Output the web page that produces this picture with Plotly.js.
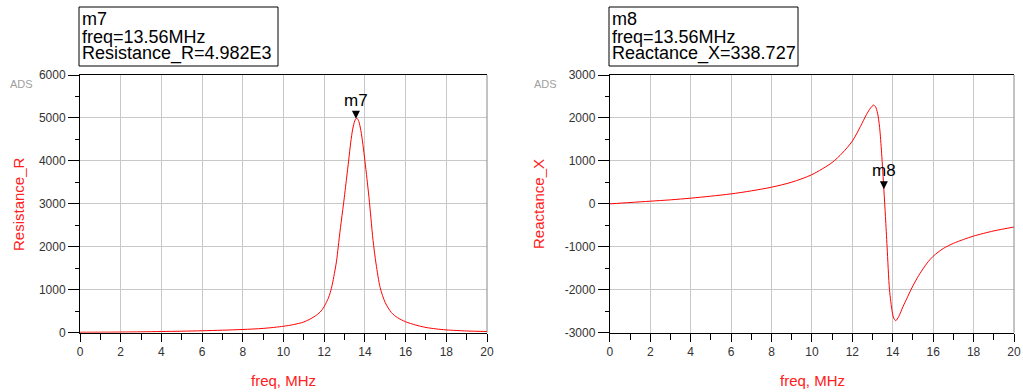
<!DOCTYPE html>
<html><head><meta charset="utf-8">
<script src="https://cdn.plot.ly/plotly-3.0.1.min.js"></script>
<style>html,body{margin:0;padding:0;background:#fff}#chart{width:1023px;height:392px}</style>
</head><body><div id="chart"></div>
<script>
// ---- data ----
const freqR = [0,1,2,3,4,5,6,7,8,9,10,10.5,11,11.5,11.8,12,12.2,12.3,12.4,12.6,12.69,12.8,12.95,13.1,13.2,13.3,13.4,13.5,13.56,13.62,13.7,13.8,13.9,14,14.1,14.2,14.3,14.4,14.55,14.75,15,15.3,15.6,16,16.5,17,17.5,18,19,20];
const resistanceR = [10,12,15,20,28,35,45,58,75,100,150,190,250,370,480,610,800,940,1130,1650,2000,2450,3000,3600,4000,4420,4740,4930,4982,4990,4920,4710,4390,4000,3590,3150,2650,2150,1600,1050,700,470,350,255,178,122,88,65,40,28];

const freqX = [0,1,2,3,4,5,6,7,8,9,10,11,11.5,12,12.4,12.7,12.9,13.05,13.15,13.25,13.35,13.45,13.56,13.64,13.72,13.84,13.97,14.05,14.15,14.3,14.5,14.7,14.9,15.1,15.35,15.7,16,16.5,17,17.5,18,19,20];
const reactanceX = [0,31,62,93,132,179,232,302,388,504,680,962,1180,1460,1800,2080,2230,2300,2260,2110,1780,1180,339,-300,-1000,-2000,-2500,-2660,-2720,-2620,-2400,-2200,-2000,-1820,-1620,-1380,-1220,-1040,-920,-830,-750,-630,-540];

const markerFreq = 13.56;
const markerR = 4982;
const markerX = 338.727;

const xTickVals = [0,2,4,6,8,10,12,14,16,18,20];
const xTickText = ['0','2','4','6','8','10','12','14','16','18','20'];
const xMinor = [1,3,5,7,9,11,13,15,17,19];
const rTickVals = [0,1000,2000,3000,4000,5000,6000];
const rTickText = ['0','1000','2000','3000','4000','5000','6000'];
const rMinor = [500,1500,2500,3500,4500,5500];
const xTickValsY = [-3000,-2000,-1000,0,1000,2000,3000];
const xTickTextY = ['-3000','-2000','-1000','0','1000','2000','3000'];
const xMinorY = [-2500,-1500,-500,500,1500,2500];

// ---- layout helpers (pixel -> paper) ----
const W = 1023, H = 392;
const px = v => v / W;
const py = v => 1 - v / H;
const FONT = 'Liberation Sans, Arial, sans-serif';
const RED = '#ff2020';

function xAxis(domain, anchor) {
  return {
    domain, anchor, range: [0, 20],
    tickmode: 'array', tickvals: xTickVals, ticktext: xTickText,
    ticks: 'outside', ticklen: 8, tickwidth: 1, tickcolor: '#000',
    showline: true, linecolor: '#000', linewidth: 1, mirror: true,
    showgrid: true, gridcolor: '#c8c8c8', gridwidth: 1, zeroline: false,
    tickfont: {family: FONT, size: 12, color: '#333'},
    minor: {tickmode: 'array', tickvals: xMinor, ticks: 'outside', ticklen: 6, tickwidth: 1, tickcolor: '#000', showgrid: false},
    fixedrange: true
  };
}
function yAxis(domain, anchor, range, vals, text, minor) {
  return {
    domain, anchor, range,
    tickmode: 'array', tickvals: vals, ticktext: text,
    ticks: 'outside', ticklen: 11, tickwidth: 1, tickcolor: '#000',
    showline: true, linecolor: '#000', linewidth: 1, mirror: false,
    showgrid: true, gridcolor: '#c8c8c8', gridwidth: 1, zeroline: false,
    tickfont: {family: FONT, size: 12, color: '#333'},
    minor: {tickmode: 'array', tickvals: minor, ticks: 'outside', ticklen: 4, tickwidth: 1, tickcolor: '#000', showgrid: false},
    fixedrange: true
  };
}

const yDom = [py(332.7), py(75)];

const traces = [
  {x: freqR, y: resistanceR, xaxis: 'x', yaxis: 'y', type: 'scatter', mode: 'lines',
   line: {color: '#ff0000', width: 1, shape: 'spline', smoothing: 0.8}, hoverinfo: 'skip'},
  {x: freqX, y: reactanceX, xaxis: 'x2', yaxis: 'y2', type: 'scatter', mode: 'lines',
   line: {color: '#ff0000', width: 1, shape: 'spline', smoothing: 0.8}, hoverinfo: 'skip'},
  {x: [markerFreq], y: [markerR], xaxis: 'x', yaxis: 'y', type: 'scatter', mode: 'markers',
   marker: {symbol: 'arrow-down', size: 8, color: '#000'}, hoverinfo: 'skip'},
  {x: [markerFreq], y: [markerX], xaxis: 'x2', yaxis: 'y2', type: 'scatter', mode: 'markers',
   marker: {symbol: 'arrow-down', size: 8, color: '#000'}, hoverinfo: 'skip'}
];

function txt(x, y, text, opts) {
  return Object.assign({xref: 'paper', yref: 'paper', x: px(x), y: py(y), text, showarrow: false,
    xanchor: 'center', yanchor: 'middle', borderpad: 0,
    font: {family: FONT, size: 15, color: RED}}, opts || {});
}
const readFont = {family: FONT, size: 18, color: '#000'};
const adsFont = {family: FONT, size: 11, color: '#a0a0a0'};

const annotations = [
  txt(18, 204, 'Resistance_R', {textangle: -90}),
  txt(538, 204, 'Reactance_X', {textangle: -90}),
  txt(283.5, 380, 'freq, MHz'),
  txt(812, 380, 'freq, MHz'),
  txt(21, 84, 'ADS', {font: adsFont}),
  txt(545, 84, 'ADS', {font: adsFont}),
  txt(81, 19, 'm7', {xanchor: 'left', font: readFont}),
  txt(81, 36.5, 'freq=' + markerFreq + 'MHz', {xanchor: 'left', font: readFont}),
  txt(81, 54, 'Resistance_R=' + (markerR / 1000).toFixed(3) + 'E3', {xanchor: 'left', font: readFont}),
  txt(611, 19, 'm8', {xanchor: 'left', font: readFont}),
  txt(611, 36.5, 'freq=' + markerFreq + 'MHz', {xanchor: 'left', font: readFont}),
  txt(611, 54, 'Reactance_X=' + markerX.toFixed(3), {xanchor: 'left', font: readFont}),
  {xref: 'x', yref: 'y', x: markerFreq, y: markerR, text: 'm7', showarrow: false,
   xanchor: 'center', yanchor: 'bottom', yshift: 8, borderpad: 0, font: {family: FONT, size: 17, color: '#000'}},
  {xref: 'x2', yref: 'y2', x: markerFreq, y: markerX, text: 'm8', showarrow: false,
   xanchor: 'center', yanchor: 'bottom', yshift: 8, borderpad: 0, font: {family: FONT, size: 17, color: '#000'}}
];

const shapes = [
  {type: 'rect', xref: 'paper', yref: 'paper', x0: px(79), x1: px(278), y0: py(66), y1: py(7), line: {color: '#000', width: 1}},
  {type: 'rect', xref: 'paper', yref: 'paper', x0: px(609), x1: px(798), y0: py(66), y1: py(7), line: {color: '#000', width: 1}},
  {type: 'line', xref: 'x domain', yref: 'y domain', x0: 1, x1: 1, y0: 0, y1: 1, line: {color: '#888', width: 1}},
  {type: 'line', xref: 'x2 domain', yref: 'y2 domain', x0: 1, x1: 1, y0: 0, y1: 1, line: {color: '#888', width: 1}}
];

const layout = {
  width: W, height: H,
  margin: {l: 0, r: 0, t: 0, b: 0, pad: 0},
  paper_bgcolor: '#fff', plot_bgcolor: '#fff',
  showlegend: false,
  font: {family: FONT},
  xaxis: xAxis([px(80), px(487)], 'y'),
  yaxis: yAxis(yDom, 'x', [0, 6000], rTickVals, rTickText, rMinor),
  xaxis2: xAxis([px(609.8), px(1014)], 'y2'),
  yaxis2: yAxis(yDom, 'x2', [-3000, 3000], xTickValsY, xTickTextY, xMinorY),
  annotations, shapes
};

Plotly.newPlot('chart', traces, layout, {staticPlot: true, displayModeBar: false});
</script>
</body></html>
